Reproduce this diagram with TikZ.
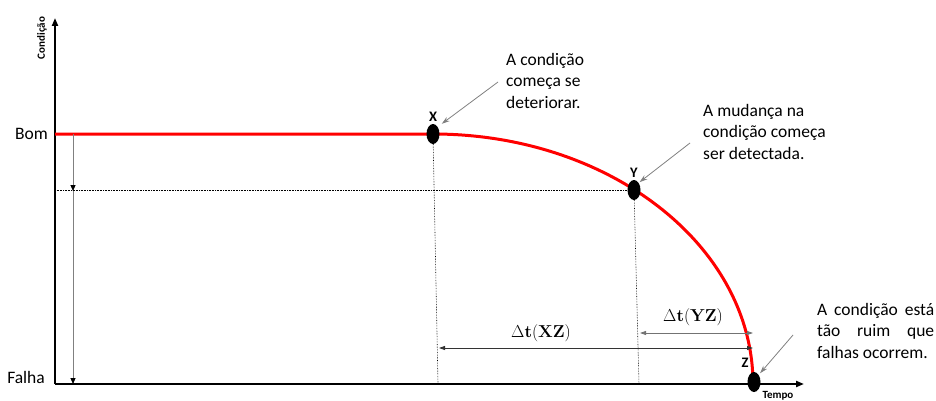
\documentclass[tikz,border=0pt]{standalone}
\usepackage[no-math]{fontspec}
\setmainfont{Carlito}
\usepackage{amsmath,amssymb}
\usepackage{tikz}
\usetikzlibrary{arrows.meta,shapes.geometric}
\definecolor{curvered}{HTML}{FF0000}
\definecolor{guide}{HTML}{808080}
\tikzset{
  every picture/.style={line join=round, >=Stealth},
  axis/.style={line width=2.2pt,-{Triangle[length=8pt,width=6pt]}},
  dot/.style={ellipse,fill=black,minimum width=13pt,minimum height=20pt,inner sep=0pt},
  note/.style={font=\fontsize{17.5}{21.5}\selectfont,align=left,inner sep=0pt,anchor=north west},
  level/.style={font=\fontsize{17.5}{17.5}\selectfont,inner sep=0pt},
  ptlabel/.style={font=\fontsize{14.5}{14.5}\selectfont\bfseries,inner sep=0pt},
  axlabel/.style={font=\fontsize{11}{11}\selectfont\bfseries,inner sep=0pt},
  pointer/.style={guide,line width=0.8pt,-{Stealth[length=8pt,width=5pt]}},
  drop/.style={guide,line width=1pt,-{Triangle[length=6pt,width=5pt,black]}},
  span/.style={line width=0.8pt,{Triangle[length=6pt,width=4pt]}-{Triangle[length=6pt,width=4pt]}},
  guideline/.style={densely dotted,line width=0.6pt},
}

\begin{document}
\begin{tikzpicture}[x=1pt,y=-1pt]
\useasboundingbox (0,0) rectangle (936,401);
% axes
\coordinate (O) at (55,384);
\coordinate (ytip) at (55,18);
\coordinate (xtip) at (804,384);
\draw[axis] (O) -- (ytip);
\draw[axis] (O) -- (xtip);
\node[axlabel,rotate=90] (cond) at (42,38) {Condição};
\node[axlabel,anchor=north] (tempo) at (778,391) {Tempo};
\node[level,anchor=east] (bom) at (48,134) {Bom};
\node[level,anchor=base east] (falha) at (45,383) {Falha};
% condition curve
\coordinate (pX) at (433,134);
\draw[curvered,line width=3pt] (O |- pX) -- (pX) arc[start angle=-90,end angle=0,x radius=320,y radius=250];
\node[dot] (X) at (pX) {};
\node[dot] (Y) at (634,190) {};
\node[dot] (Z) at (754,382) {};
\node[ptlabel] (lX) at (433,117) {X};
\node[ptlabel] (lY) at (634,173) {Y};
\node[ptlabel] (lZ) at (745,363) {Z};
% guide lines
\draw[guideline] (X) -- ([xshift=5pt]X |- O);
\draw[guideline] (Y) -- ([xshift=5pt]Y |- O);
\draw[guideline] (O |- Y) -- (Y);
\coordinate (d0) at (73,134);
\coordinate (d1) at (73,191);
\coordinate (d2) at (73,384);
\draw[drop] (d0) -- (d1);
\draw[drop] (d1) -- (d2);
% time spans
\coordinate (sXa) at (439,348); \coordinate (sXb) at (753,348);
\coordinate (sYa) at (640,333); \coordinate (sYb) at (753,333);
\draw[span,black!80] (sXa) -- (sXb);
\draw[span,black!55] (sYa) -- (sYb);
\node[font=\fontsize{17}{17}\selectfont] (tXZ) at (541,333) {$\Delta\mathbf{t}(\mathbf{XZ})$};
\node[font=\fontsize{17}{17}\selectfont] (tYZ) at (693,317) {$\Delta\mathbf{t}(\mathbf{YZ})$};
% notes
\node[note] (nX) at (506,53) {A condição\\começa se\\deteriorar.};
\node[note] (nY) at (703,104) {A mudança na\\condição começa\\ser detectada.};
\node[note] (nZ) at (817,303) {\makebox[117pt][s]{A condição está}\\\makebox[117pt][s]{tão ruim que}\\falhas ocorrem.};
\coordinate (qX) at (498,82);
\coordinate (qY) at (690,143);
\coordinate (qZ) at (793,335);
\draw[pointer,shorten >=5pt] (qX) -- (X.north east);
\draw[pointer,shorten >=1pt] (qY) -- (Y.north east);
\draw[pointer,shorten >=2pt] (qZ) -- (Z.north east);
\end{tikzpicture}
\end{document}
